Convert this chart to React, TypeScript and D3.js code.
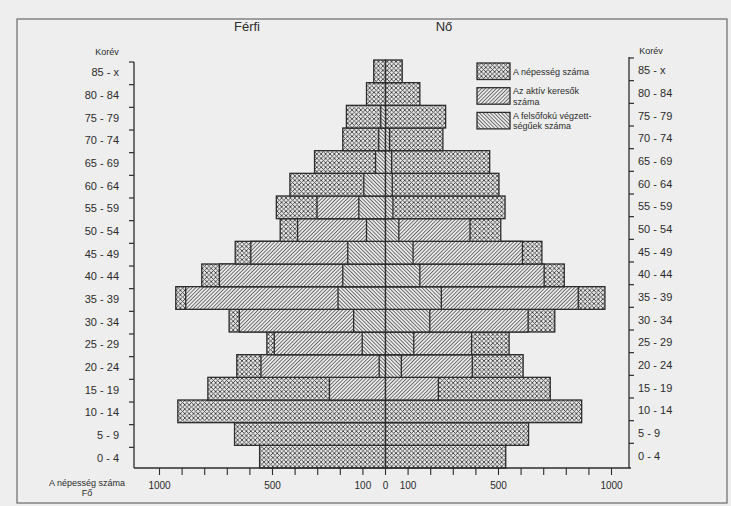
import React from "react";
import * as d3 from "d3";

// Age groups, youngest first
const ageGroups = ["0 - 4", "5 - 9", "10 - 14", "15 - 19", "20 - 24", "25 - 29", "30 - 34", "35 - 39", "40 - 44", "45 - 49", "50 - 54", "55 - 59", "60 - 64", "65 - 69", "70 - 74", "75 - 79", "80 - 84", "85 - x"];

// Férfi (men)
const malePopulation = [557, 668, 919, 786, 658, 525, 692, 928, 813, 665, 466, 483, 423, 314, 189, 173, 84, 52];
const maleActive = [0, 0, 0, 248, 551, 492, 647, 884, 735, 596, 389, 303, 0, 0, 0, 0, 0, 0];
const maleEducated = [0, 0, 0, 0, 28, 103, 141, 210, 189, 167, 84, 118, 96, 44, 30, 21, 0, 0];

// Nő (women)
const femalePopulation = [532, 633, 868, 729, 609, 547, 749, 971, 791, 692, 510, 529, 502, 461, 254, 266, 152, 74];
const femaleActive = [0, 0, 0, 234, 384, 381, 631, 853, 702, 606, 374, 0, 0, 0, 0, 0, 0, 0];
const femaleEducated = [0, 0, 0, 0, 70, 125, 196, 247, 152, 122, 59, 33, 30, 27, 18, 0, 0, 0];

const tickValues = d3.range(-1000, 1001, 100);
const tickLabelValues = [-1000, -500, -100, 0, 100, 500, 1000];
const tickLabelTexts = ["1000", "500", "100", "0", "100", "500", "1000"];

const legendPatterns = ["cross", "fwd", "back"];
const legendLines = [["A népesség száma"], ["Az aktív keresők", "száma"], ["A felsőfokú végzett-", "ségűek száma"]];

const W = 731;
const H = 506;
const BG = "#eeeeee";
const INK = "#2c2c2c";
const FONT = "'Liberation Sans', Arial, Helvetica, sans-serif";

export default function App() {
  const x = d3.scaleLinear().domain([-1000, 1000]).range([159.5, 611.5]);
  const y = d3.scaleBand<string>().domain([...ageGroups].reverse()).range([60, 468]).padding(0);
  const bw = y.bandwidth();
  const x0 = x(0);
  const axisLeft = 134;
  const axisRight = 629;
  const axisBottom = 468;

  const seg = (key: string, v: number, side: number, pat: string, age: string) => {
    if (!v) return null;
    const xa = x(side * v);
    return (
      <rect
        key={key}
        x={Math.min(x0, xa)}
        y={y(age)}
        width={Math.abs(xa - x0)}
        height={bw}
        fill={`url(#${pat})`}
        stroke={INK}
        strokeWidth={1.3}
      />
    );
  };

  return (
    <svg
      width={W}
      height={H}
      viewBox={`0 0 ${W} ${H}`}
      style={{ position: "absolute", left: 0, top: 0, background: BG, fontFamily: FONT }}
    >
      <defs>
        <pattern id="cross" patternUnits="userSpaceOnUse" width={4.4} height={4.4}>
          <rect width={4.4} height={4.4} fill="#e8e8e8" />
          <path d="M-1,-1L5.4,5.4M5.4,-1L-1,5.4" stroke="#3a3a3a" strokeWidth={0.85} />
        </pattern>
        <pattern id="fwd" patternUnits="userSpaceOnUse" width={2.6} height={10} patternTransform="rotate(45)">
          <rect width={2.6} height={10} fill="#eaeaea" />
          <line x1={1.3} y1={0} x2={1.3} y2={10} stroke="#4a4a4a" strokeWidth={0.8} />
        </pattern>
        <pattern id="back" patternUnits="userSpaceOnUse" width={2.6} height={10} patternTransform="rotate(-45)">
          <rect width={2.6} height={10} fill="#eaeaea" />
          <line x1={1.3} y1={0} x2={1.3} y2={10} stroke="#4a4a4a" strokeWidth={0.8} />
        </pattern>
      </defs>

      {/* page frame */}
      <rect x={17} y={19} width={710} height={484} fill="none" stroke="#6a6a6a" strokeWidth={1.2} />

      {/* titles */}
      <text x={247} y={31} fontSize={13} textAnchor="middle" fill={INK}>Férfi</text>
      <text x={444} y={31} fontSize={13} textAnchor="middle" fill={INK}>Nő</text>
      <text x={107} y={55} fontSize={9} textAnchor="middle" fill={INK}>Korév</text>
      <text x={651} y={54} fontSize={9} textAnchor="middle" fill={INK}>Korév</text>

      {/* bars */}
      {ageGroups.map((age, i) => (
        <g key={age}>
          {seg("mp", malePopulation[i], -1, "cross", age)}
          {seg("fp", femalePopulation[i], 1, "cross", age)}
          {seg("ma", maleActive[i], -1, "fwd", age)}
          {seg("fa", femaleActive[i], 1, "fwd", age)}
          {seg("me", maleEducated[i], -1, "back", age)}
          {seg("fe", femaleEducated[i], 1, "back", age)}
        </g>
      ))}

      {/* centre line */}
      <line x1={x0} x2={x0} y1={y.range()[0]} y2={axisBottom} stroke={INK} strokeWidth={1} />

      {/* left age axis */}
      <line x1={axisLeft} x2={axisLeft} y1={y.range()[0] + 2} y2={axisBottom} stroke={INK} strokeWidth={1.3} />
      {ageGroups.map((age) => (
        <line key={"lt" + age} x1={axisLeft - 5} x2={axisLeft} y1={(y(age) as number) + 2} y2={(y(age) as number) + 2} stroke={INK} strokeWidth={1.2} />
      ))}
      {/* right age axis */}
      <line x1={axisRight} x2={axisRight} y1={y.range()[0] - 3} y2={axisBottom} stroke={INK} strokeWidth={1.3} />
      {ageGroups.map((age) => (
        <line key={"rt" + age} x1={axisRight} x2={axisRight + 5} y1={(y(age) as number) - 2} y2={(y(age) as number) - 2} stroke={INK} strokeWidth={1.2} />
      ))}

      {ageGroups.map((age) => (
        <g key={"lab" + age}>
          <text x={119} y={(y(age) as number) + bw / 2 + 1} dy="0.35em" fontSize={11} textAnchor="end" fill={INK}>{age}</text>
          <text x={638} y={(y(age) as number) + bw / 2 - 1} dy="0.35em" fontSize={11} textAnchor="start" fill={INK}>{age}</text>
        </g>
      ))}

      {/* bottom axis */}
      <line x1={axisLeft} x2={axisRight + 2} y1={axisBottom} y2={axisBottom} stroke={INK} strokeWidth={1.4} />
      {tickValues.map((v) => (
        <line key={"xt" + v} x1={x(v)} x2={x(v)} y1={axisBottom} y2={axisBottom + 7} stroke={INK} strokeWidth={1.1} />
      ))}
      {tickLabelValues.map((v, i) => (
        <text key={"xl" + i} x={x(v)} y={489} fontSize={10} textAnchor="middle" fill={INK}>{tickLabelTexts[i]}</text>
      ))}
      <text x={87} y={486} fontSize={9} textAnchor="middle" fill={INK}>A népesség száma</text>
      <text x={87} y={496} fontSize={9} textAnchor="middle" fill={INK}>Fő</text>

      {/* legend */}
      {legendPatterns.map((p, i) => (
        <g key={"lg" + p} transform={`translate(477, ${63 + i * 24.7})`}>
          <rect x={0} y={0} width={33} height={16.5} fill={`url(#${p})`} stroke={INK} strokeWidth={1.3} />
          {legendLines[i].map((ln, j) => (
            <text key={j} x={36} y={(legendLines[i].length === 1 ? 11.5 : 6.5) + j * 10.5} fontSize={9} fill={INK}>{ln}</text>
          ))}
        </g>
      ))}
    </svg>
  );
}
